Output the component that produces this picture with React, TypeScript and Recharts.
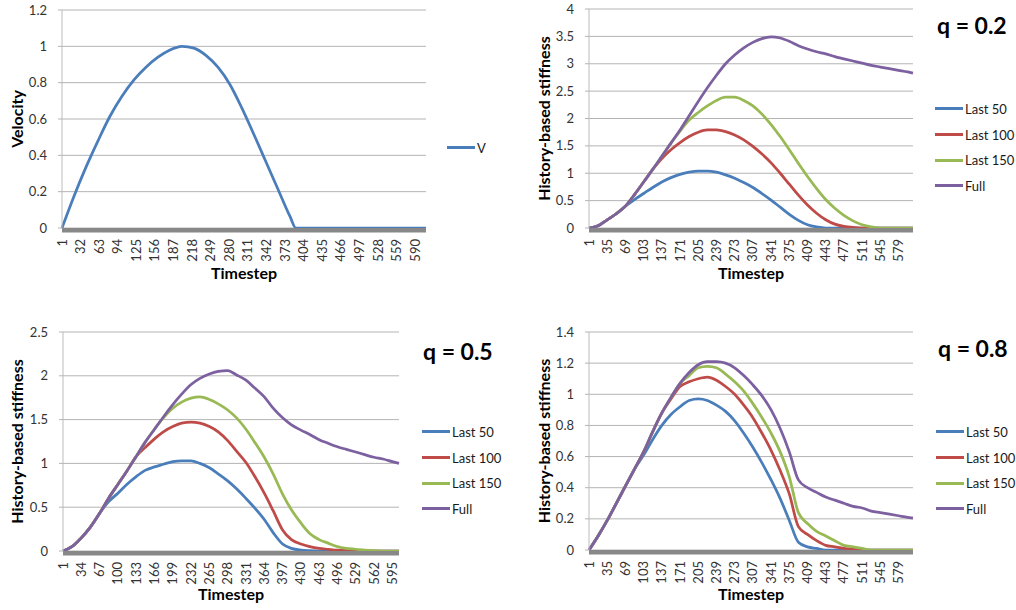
import React from 'react';
import { LineChart, Line, XAxis, YAxis, CartesianGrid, Legend } from 'recharts';

// velocity panel
const velSteps = [1, 21, 41, 61, 81, 101, 121, 141, 161, 181, 201, 221, 241, 261, 281, 301, 321, 341, 361, 381, 391, 421, 461, 501, 541, 581, 608];
const velocity = [0, 0.175, 0.335, 0.48, 0.615, 0.725, 0.815, 0.885, 0.94, 0.98, 1.0, 0.99, 0.95, 0.885, 0.79, 0.66, 0.515, 0.365, 0.215, 0.065, 0, 0, 0, 0, 0, 0, 0];
const velTicks = [1, 32, 63, 94, 125, 156, 187, 218, 249, 280, 311, 342, 373, 404, 435, 466, 497, 528, 559, 590];
const velYTicks = [0, 0.2, 0.4, 0.6, 0.8, 1, 1.2];

// q = 0.2 and q = 0.8 share the same sampled steps
const stepsA = [1, 18, 35, 52, 69, 86, 103, 120, 137, 154, 171, 188, 205, 222, 239, 256, 273, 290, 307, 324, 341, 358, 375, 392, 409, 426, 443, 460, 477, 494, 511, 528, 545, 562, 579, 596, 606];
const ticksA = [1, 35, 69, 103, 137, 171, 205, 239, 273, 307, 341, 375, 409, 443, 477, 511, 545, 579];

const q2Last50 = [0, 0.04, 0.15, 0.26, 0.4, 0.52, 0.63, 0.74, 0.84, 0.92, 0.98, 1.02, 1.04, 1.04, 1.02, 0.97, 0.91, 0.83, 0.74, 0.63, 0.51, 0.38, 0.25, 0.14, 0.06, 0.02, 0, 0, 0, 0, 0, 0, 0, 0, 0, 0, 0];
const q2Last100 = [0, 0.04, 0.15, 0.26, 0.4, 0.61, 0.84, 1.07, 1.27, 1.43, 1.56, 1.67, 1.75, 1.79, 1.79, 1.76, 1.7, 1.61, 1.49, 1.35, 1.19, 1.0, 0.8, 0.6, 0.42, 0.27, 0.15, 0.07, 0.03, 0.01, 0, 0, 0, 0, 0, 0, 0];
const q2Last150 = [0, 0.04, 0.15, 0.26, 0.4, 0.61, 0.84, 1.07, 1.31, 1.55, 1.77, 1.97, 2.11, 2.23, 2.33, 2.39, 2.39, 2.33, 2.23, 2.08, 1.89, 1.67, 1.43, 1.18, 0.94, 0.72, 0.52, 0.36, 0.23, 0.13, 0.06, 0.02, 0, 0, 0, 0, 0];
const q2Full = [0, 0.04, 0.15, 0.26, 0.4, 0.61, 0.84, 1.07, 1.31, 1.55, 1.79, 2.05, 2.31, 2.56, 2.79, 3.0, 3.16, 3.29, 3.39, 3.46, 3.49, 3.47, 3.41, 3.33, 3.27, 3.22, 3.18, 3.13, 3.09, 3.05, 3.01, 2.97, 2.94, 2.91, 2.88, 2.85, 2.83];
const q2YTicks = [0, 0.5, 1, 1.5, 2, 2.5, 3, 3.5, 4];

const q8Last50 = [0, 0.09, 0.19, 0.3, 0.41, 0.52, 0.61, 0.71, 0.8, 0.87, 0.92, 0.96, 0.97, 0.96, 0.93, 0.89, 0.83, 0.75, 0.66, 0.56, 0.45, 0.33, 0.19, 0.05, 0.02, 0.01, 0, 0, 0, 0, 0, 0, 0, 0, 0, 0, 0];
const q8Last100 = [0, 0.09, 0.19, 0.3, 0.41, 0.52, 0.63, 0.76, 0.88, 0.97, 1.05, 1.08, 1.1, 1.11, 1.09, 1.05, 1.0, 0.93, 0.85, 0.75, 0.64, 0.51, 0.36, 0.15, 0.1, 0.06, 0.03, 0.02, 0.01, 0.005, 0, 0, 0, 0, 0, 0, 0];
const q8Last150 = [0, 0.09, 0.19, 0.3, 0.41, 0.52, 0.63, 0.76, 0.88, 0.98, 1.07, 1.12, 1.17, 1.18, 1.17, 1.13, 1.08, 1.02, 0.94, 0.85, 0.75, 0.63, 0.47, 0.24, 0.17, 0.12, 0.09, 0.06, 0.03, 0.02, 0.01, 0, 0, 0, 0, 0, 0];
const q8Full = [0, 0.09, 0.19, 0.3, 0.41, 0.52, 0.63, 0.76, 0.88, 0.98, 1.07, 1.14, 1.19, 1.21, 1.21, 1.2, 1.17, 1.12, 1.06, 0.99, 0.9, 0.78, 0.63, 0.45, 0.4, 0.37, 0.34, 0.32, 0.3, 0.28, 0.27, 0.25, 0.24, 0.23, 0.22, 0.21, 0.205];
const q8YTicks = [0, 0.2, 0.4, 0.6, 0.8, 1, 1.2, 1.4];

// q = 0.5
const stepsB = [1, 17, 34, 50, 67, 83, 100, 116, 133, 149, 166, 182, 199, 215, 232, 248, 265, 281, 298, 314, 331, 347, 364, 380, 397, 413, 430, 446, 463, 479, 496, 512, 529, 545, 562, 578, 595, 607];
const ticksB = [1, 34, 67, 100, 133, 166, 199, 232, 265, 298, 331, 364, 397, 430, 463, 496, 529, 562, 595];

const q5Last50 = [0, 0.05, 0.15, 0.27, 0.43, 0.56, 0.66, 0.76, 0.85, 0.92, 0.96, 0.99, 1.02, 1.03, 1.03, 1.0, 0.95, 0.88, 0.8, 0.71, 0.6, 0.49, 0.36, 0.21, 0.08, 0.03, 0.01, 0.003, 0, 0, 0, 0, 0, 0, 0, 0, 0, 0];
const q5Last100 = [0, 0.05, 0.15, 0.27, 0.43, 0.6, 0.76, 0.91, 1.08, 1.18, 1.28, 1.36, 1.42, 1.46, 1.47, 1.46, 1.42, 1.36, 1.26, 1.14, 1.01, 0.85, 0.66, 0.46, 0.24, 0.13, 0.08, 0.05, 0.03, 0.02, 0.01, 0.005, 0, 0, 0, 0, 0, 0];
const q5Last150 = [0, 0.05, 0.15, 0.27, 0.43, 0.6, 0.76, 0.91, 1.08, 1.24, 1.39, 1.52, 1.63, 1.7, 1.745, 1.76, 1.73, 1.68, 1.61, 1.52, 1.39, 1.24, 1.07, 0.88, 0.65, 0.47, 0.32, 0.2, 0.13, 0.09, 0.05, 0.03, 0.02, 0.01, 0.003, 0, 0, 0];
const q5Full = [0, 0.05, 0.15, 0.27, 0.43, 0.6, 0.76, 0.91, 1.08, 1.24, 1.39, 1.53, 1.67, 1.79, 1.9, 1.97, 2.02, 2.05, 2.06, 2.01, 1.95, 1.86, 1.76, 1.63, 1.52, 1.44, 1.38, 1.33, 1.27, 1.23, 1.19, 1.16, 1.13, 1.1, 1.07, 1.05, 1.02, 1.0];
const q5YTicks = [0, 0.5, 1, 1.5, 2, 2.5];

const seriesNames = ['Last 50', 'Last 100', 'Last 150', 'Full'];
const seriesColors = ['#4a7ebb', '#be4b48', '#98b954', '#7d60a0'];

const FONT = 'Lato, "Open Sans", sans-serif';

const XTick = (props: any) => {
  const { x, y, payload } = props;
  const ty = y + 9;
  return (
    <text x={x} y={ty} dy="0.35em" textAnchor="end" transform={`rotate(-90, ${x}, ${ty})`}
      fontSize={13} fontFamily={FONT} fill="#333">
      {payload.value}
    </text>
  );
};

const Title = ({ text, cx, cy, vertical }: any) => (
  <text x={cx} y={cy} dy={vertical ? '0.35em' : 0} textAnchor="middle"
    transform={vertical ? `rotate(-90, ${cx}, ${cy})` : undefined}
    fontSize={16} fontWeight="bold" fontFamily={FONT} fill="#000">
    {text}
  </text>
);

const LegendRows = ({ names, colors }: { names: string[]; colors: string[] }) => (
  <div style={{ fontFamily: FONT, fontSize: 13, color: '#1a1a1a' }}>
    {names.map((n, i) => (
      <div key={n} style={{ display: 'flex', alignItems: 'center', height: 25.7, whiteSpace: 'nowrap' }}>
        <span style={{ display: 'inline-block', width: 28, height: 3, background: colors[i], marginRight: 2 }} />
        <span>{n}</span>
      </div>
    ))}
  </div>
);

type PanelProps = {
  left: number; top: number; width: number; height: number;
  steps: number[]; values: number[][]; names: string[]; colors: string[];
  xMax: number; xTicks: number[]; yMax: number; yTicks: number[];
  yTitle: string; mTop: number; mRight: number; yWidth: number; xHeight: number;
  yTitleX: number; xTitleY: number; legendLeft: number; legendTop: number;
  q?: string; qLeft?: number; qTop?: number;
};

function Panel(p: PanelProps) {
  const keys = p.names.map((_, i) => `s${i}`);
  const data = p.steps.map((t, i) => {
    const row: Record<string, number> = { t };
    keys.forEach((k, j) => { row[k] = p.values[j][i]; });
    return row;
  });
  const plotW = p.width - p.yWidth - p.mRight;
  const plotH = p.height - p.mTop - p.xHeight;
  const cx = p.yWidth + plotW / 2;
  const cy = p.mTop + plotH / 2;

  return (
    <div style={{ position: 'absolute', left: p.left, top: p.top, width: p.width, height: p.height }}>
      <LineChart width={p.width} height={p.height} data={data}
        margin={{ top: p.mTop, right: p.mRight, left: 0, bottom: 0 }}>
        <CartesianGrid vertical={false} stroke="#b4b4b4" />
        <XAxis dataKey="t" type="number" domain={[1, p.xMax]} ticks={p.xTicks} interval={0}
          tick={<XTick />} tickLine={false} tickSize={0} height={p.xHeight}
          axisLine={{ stroke: '#888', strokeWidth: 4.5, transform: 'translate(0, 2.3)' }}
          label={<Title text="Timestep" cx={cx} cy={p.xTitleY} />} />
        <YAxis type="number" domain={[0, p.yMax]} ticks={p.yTicks} interval={0} width={p.yWidth}
          tickSize={4} tickMargin={11} tickLine={{ stroke: '#b4b4b4' }} axisLine={{ stroke: '#bcbcbc' }}
          tick={{ fill: '#333', fontSize: 13, fontFamily: FONT }}
          label={<Title text={p.yTitle} cx={p.yTitleX} cy={cy} vertical />} />
        {keys.map((k, j) => (
          <Line key={k} dataKey={k} name={p.names[j]} type="monotone" stroke={p.colors[j]}
            strokeWidth={2.75} dot={false} activeDot={false} isAnimationActive={false} />
        ))}
        <Legend layout="vertical" align="center" verticalAlign="middle"
          wrapperStyle={{ left: p.legendLeft, top: p.legendTop, width: 'auto' }}
          content={() => <LegendRows names={p.names} colors={p.colors} />} />
      </LineChart>
      {p.q && (
        <div style={{ position: 'absolute', left: p.qLeft, top: p.qTop, fontFamily: FONT, fontWeight: 'bold', fontSize: 23, lineHeight: '23px', color: '#000', whiteSpace: 'nowrap' }}>
          {p.q}
        </div>
      )}
    </div>
  );
}

export default function App() {
  return (
    <div style={{ position: 'absolute', left: 0, top: 0, width: 1016, height: 610, background: '#fff', overflow: 'hidden' }}>
      <Panel left={0} top={0} width={500} height={300} steps={velSteps} values={[velocity]}
        names={['V']} colors={[seriesColors[0]]} xMax={608} xTicks={velTicks} yMax={1.2} yTicks={velYTicks}
        yTitle="Velocity" mTop={10} mRight={74} yWidth={62} xHeight={72} yTitleX={17} xTitleY={279}
        legendLeft={447} legendTop={135} />
      <Panel left={500} top={0} width={516} height={300} steps={stepsA}
        values={[q2Last50, q2Last100, q2Last150, q2Full]} names={seriesNames} colors={seriesColors}
        xMax={606} xTicks={ticksA} yMax={4} yTicks={q2YTicks}
        yTitle="History-based stiffness" mTop={9} mRight={103} yWidth={89} xHeight={72} yTitleX={44} xTitleY={279}
        legendLeft={435} legendTop={96} q="q = 0.2" qLeft={437} qTop={14} />
      <Panel left={0} top={300} width={500} height={310} steps={stepsB}
        values={[q5Last50, q5Last100, q5Last150, q5Full]} names={seriesNames} colors={seriesColors}
        xMax={607} xTicks={ticksB} yMax={2.5} yTicks={q5YTicks}
        yTitle="History-based stiffness" mTop={32} mRight={101} yWidth={63} xHeight={59} yTitleX={17} xTitleY={300}
        legendLeft={422} legendTop={119} q="q = 0.5" qLeft={423} qTop={40} />
      <Panel left={500} top={300} width={516} height={310} steps={stepsA}
        values={[q8Last50, q8Last100, q8Last150, q8Full]} names={seriesNames} colors={seriesColors}
        xMax={606} xTicks={ticksA} yMax={1.4} yTicks={q8YTicks}
        yTitle="History-based stiffness" mTop={32} mRight={103} yWidth={89} xHeight={60} yTitleX={44} xTitleY={300}
        legendLeft={436} legendTop={119} q="q = 0.8" qLeft={438} qTop={37} />
    </div>
  );
}
